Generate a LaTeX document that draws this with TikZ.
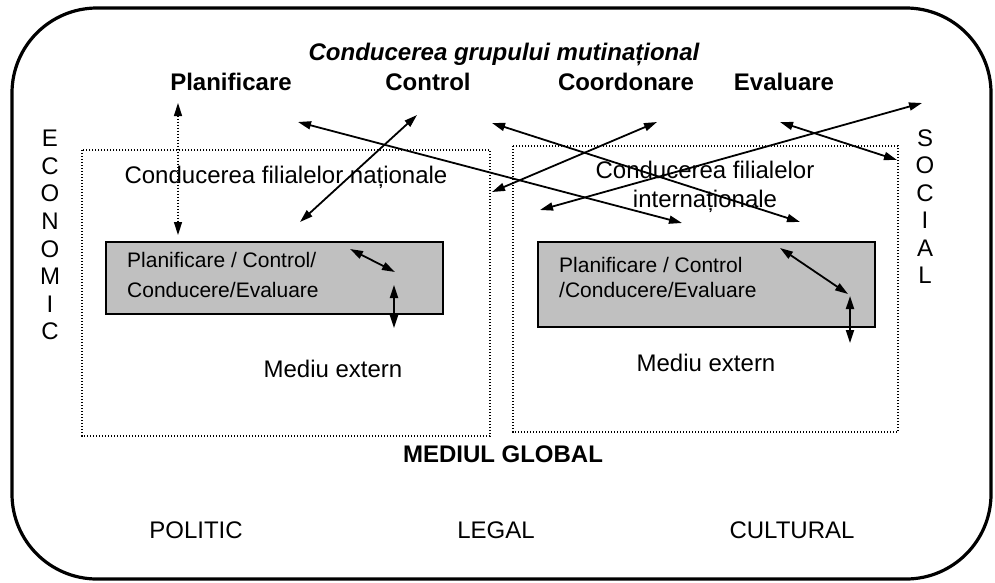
\documentclass[tikz,border=0pt]{standalone}
\usepackage{fontspec}
\setmainfont{Liberation Sans}
\usetikzlibrary{arrows.meta}
\definecolor{boxgray}{RGB}{192,192,192}
\begin{document}
\begin{tikzpicture}[x=1pt,y=-1pt,
  lbl/.style={inner sep=0pt,anchor=base,font=\fontsize{24}{28}\selectfont},
  boldlbl/.style={lbl,font=\fontsize{24}{28}\selectfont\bfseries},
  boxtxt/.style={inner sep=0pt,anchor=base west,font=\fontsize{21}{25}\selectfont},
  frame/.style={line width=1.4pt,dash pattern=on 1.4pt off 1.6pt},
  graybox/.style={draw,line width=1.8pt,fill=boxgray,inner sep=0pt,anchor=north west},
  link/.style={line width=1.8pt,{Triangle[length=13pt,width=8pt]}-{Triangle[length=13pt,width=8pt]}},
  dotlink/.style={link,line width=1.5pt,dash pattern=on 1.5pt off 1.5pt}]
\useasboundingbox (0,0) rectangle (995,582);

% outer frame
\draw[line width=3.2pt,rounded corners=85pt] (12,8) rectangle (991,579);

% national and international subsidiaries
\draw[frame] (82,150) rectangle (490,436);
\draw[frame] (513,146) rectangle (898,432);

% gray activity boxes
\node[graybox,minimum width=337pt,minimum height=72pt] (gl) at (105,241) {};
\node[graybox,minimum width=337pt,minimum height=85pt] (gr) at (537,241) {};
\node[boxtxt] (gl1) at (127,267) {Planificare / Control/};
\node[boxtxt] (gl2) at (127,297) {Conducere/Evaluare};
\node[boxtxt] (gr1) at (559,272) {Planificare / Control};
\node[boxtxt] (gr2) at (559,297) {/Conducere/Evaluare};

% headings
\node[lbl,font=\fontsize{24}{28}\selectfont\bfseries\itshape] (title) at (504,60) {Conducerea grupului mutinațional};
\node[boldlbl] (plan) at (231,90) {Planificare};
\node[boldlbl] (ctrl) at (428,90) {Control};
\node[boldlbl] (coord) at (626,90) {Coordonare};
\node[boldlbl] (eval) at (784,90) {Evaluare};

\node[lbl] (cfn) at (286,183) {Conducerea filialelor naționale};
\node[lbl] (cfi1) at (705,178) {Conducerea filialelor};
\node[lbl] (cfi2) at (705,207) {internaționale};

\node[lbl] (me1) at (333,377) {Mediu extern};
\node[lbl] (me2) at (706,371) {Mediu extern};

\node[boldlbl] (glob) at (503,462) {MEDIUL GLOBAL};
\node[lbl] (pol) at (196,538) {POLITIC};
\node[lbl] (leg) at (496,538) {LEGAL};
\node[lbl] (cult) at (792,538) {CULTURAL};

% vertical words
\foreach \ch [count=\i] in {E,C,O,N,O,M,I,C}
  \node[lbl] (eco\i) at (50,{146.6+27.6*(\i-1)}) {\ch};
\foreach \ch [count=\i] in {S,O,C,I,A,L}
  \node[lbl] (soc\i) at (925,{146+27.5*(\i-1)}) {\ch};

% arrow end points
\coordinate (p1a) at (298,122); \coordinate (p1b) at (682,223);
\coordinate (p2a) at (417,115); \coordinate (p2b) at (300,222);
\coordinate (p3a) at (492,123); \coordinate (p3b) at (800,222);
\coordinate (p4a) at (657,122); \coordinate (p4b) at (492,192);
\coordinate (p5a) at (922,103); \coordinate (p5b) at (540,210);
\coordinate (p6a) at (780,122); \coordinate (p6b) at (897,160);
\coordinate (p7a) at (178,103); \coordinate (p7b) at (178,235);
\coordinate (q1a) at (350,249); \coordinate (q1b) at (395,272);
\coordinate (q2a) at (394,285); \coordinate (q2b) at (394,328);
\coordinate (q3a) at (780,248); \coordinate (q3b) at (848,294);
\coordinate (q4a) at (850,296); \coordinate (q4b) at (850,343);

\draw[link] (p1a) -- (p1b);
\draw[link] (p2a) -- (p2b);
\draw[link] (p3a) -- (p3b);
\draw[link] (p4a) -- (p4b);
\draw[link] (p5a) -- (p5b);
\draw[link] (p6a) -- (p6b);
\draw[dotlink] (p7a) -- (p7b);
\draw[link] (q1a) -- (q1b);
\draw[link] (q2a) -- (q2b);
\draw[link] (q3a) -- (q3b);
\draw[link] (q4a) -- (q4b);
\end{tikzpicture}
\end{document}
